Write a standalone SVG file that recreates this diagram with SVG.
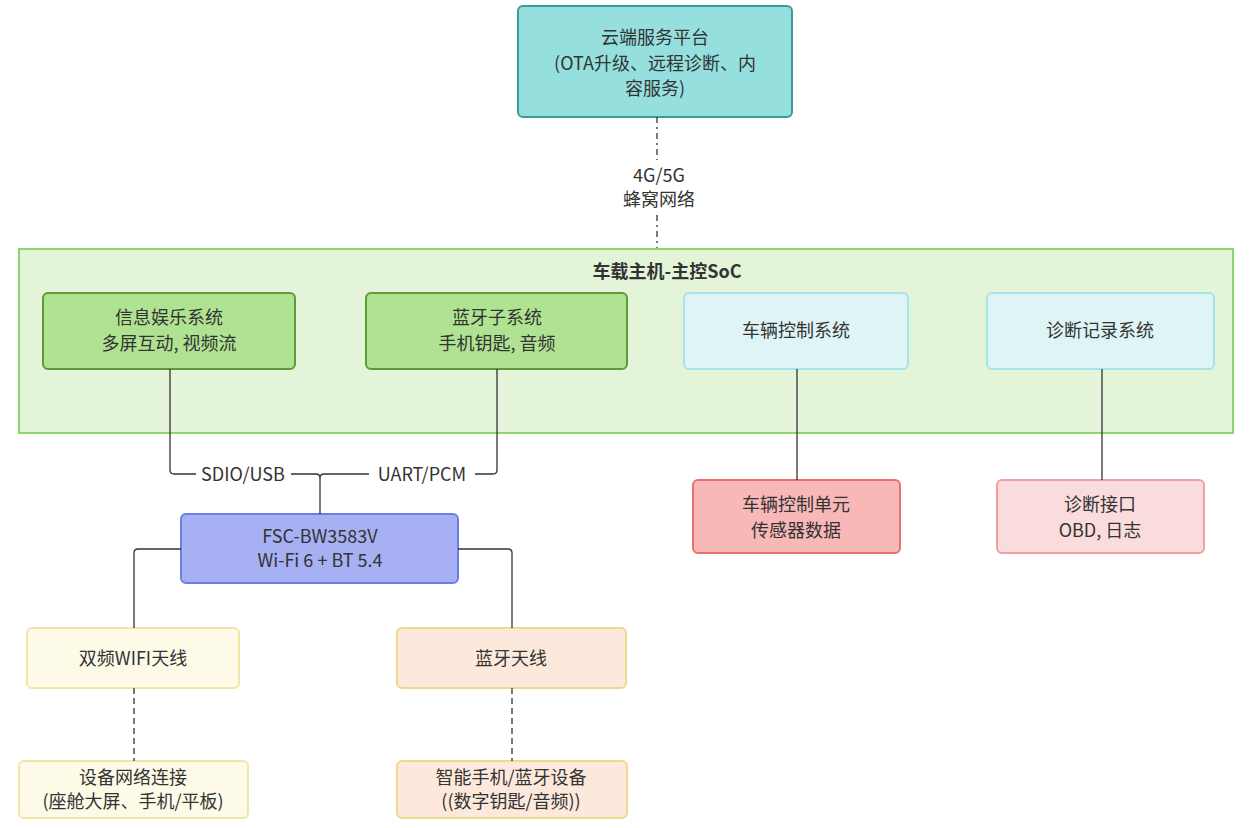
<svg xmlns="http://www.w3.org/2000/svg" width="1250" height="828" viewBox="0 0 1250 828">
<style>
text{font-family:"Noto Sans CJK SC","Liberation Sans",sans-serif;font-size:18px;fill:#333;text-anchor:middle}
.b{stroke-width:2}
.ln{fill:none;stroke:#333;stroke-width:1.3}
</style>
<rect width="1250" height="828" fill="#fff"/>
<g id="cloud"><rect x="518" y="6" width="274" height="111" rx="5" fill="#95e0df" stroke="#3b9a9a" class="b"/>
<text x="655" y="44">云端服务平台</text><text x="655" y="70">(OTA升级、远程诊断、内</text><text x="655" y="95">容服务)</text></g>
<g id="soc"><rect x="19" y="249" width="1214" height="184" fill="#e3f4d9" stroke="#8ed66b" class="b"/>
<text x="667" y="278" font-weight="bold" style="font-weight:bold">车载主机-主控SoC</text></g>
<g id="info"><rect x="43" y="293" width="252" height="76" rx="5" fill="#b0e391" stroke="#5c9a3a" class="b"/><text x="169" y="324">信息娱乐系统</text><text x="169" y="350">多屏互动, 视频流</text></g>
<g id="bt"><rect x="366" y="293" width="261" height="76" rx="5" fill="#b0e391" stroke="#5c9a3a" class="b"/><text x="497" y="324">蓝牙子系统</text><text x="497" y="350">手机钥匙, 音频</text></g>
<g id="vcs"><rect x="684" y="293" width="224" height="76" rx="5" fill="#dff4f5" stroke="#a6e3ea" class="b"/><text x="796" y="337">车辆控制系统</text></g>
<g id="diag"><rect x="987" y="293" width="227" height="76" rx="5" fill="#dff4f5" stroke="#a6e3ea" class="b"/><text x="1100" y="337">诊断记录系统</text></g>
<g id="vcu"><rect x="693" y="480" width="207" height="73" rx="5" fill="#f8b8b8" stroke="#e87070" class="b"/><text x="796" y="511">车辆控制单元</text><text x="796" y="537">传感器数据</text></g>
<g id="obd"><rect x="997" y="480" width="207" height="73" rx="5" fill="#fbdcdc" stroke="#f0a0a0" class="b"/><text x="1100" y="511">诊断接口</text><text x="1100" y="537">OBD, 日志</text></g>
<g id="fsc"><rect x="181" y="514" width="277" height="69" rx="5" fill="#a6b0f2" stroke="#6a7fe0" class="b"/><text x="320" y="543">FSC-BW3583V</text><text x="320" y="567">Wi-Fi 6 + BT 5.4</text></g>
<g id="wifi"><rect x="27" y="628" width="212" height="60" rx="5" fill="#fdfae8" stroke="#f1e6a6" class="b"/><text x="133" y="665">双频WIFI天线</text></g>
<g id="btant"><rect x="397" y="628" width="229" height="60" rx="5" fill="#fce9dc" stroke="#edd98a" class="b"/><text x="511" y="665">蓝牙天线</text></g>
<g id="dev"><rect x="19" y="761" width="229" height="57" rx="5" fill="#fdfae8" stroke="#f1e6a6" class="b"/><text x="133" y="784">设备网络连接</text><text x="133" y="808">(座舱大屏、手机/平板)</text></g>
<g id="phone"><rect x="397" y="761" width="230" height="57" rx="5" fill="#fce9dc" stroke="#edd98a" class="b"/><text x="511" y="784">智能手机/蓝牙设备</text><text x="511" y="808">((数字钥匙/音频))</text></g>
<g id="connectors">
<path class="ln" d="M657 117V160M657 215V248" stroke-dasharray="6 4 2 4"/>
<text x="659" y="182">4G/5G</text><text x="659" y="206">蜂窝网络</text>
<path class="ln" d="M170 369V470Q170 474 174 474H196M291 474H316Q320 474 320 478V514M320 478Q320 474 324 474H369M475 474H493Q497 474 497 470V369"/>
<text x="243" y="481">SDIO/USB</text><text x="422" y="481">UART/PCM</text>
<path class="ln" d="M797 369V480M1102 369V480"/>
<path class="ln" d="M181 549H138Q134 549 134 553V628M458 549H508Q512 549 512 553V628"/>
<path class="ln" d="M134 688V761M512 688V761" stroke-dasharray="6 4"/>
</g>
</svg>
